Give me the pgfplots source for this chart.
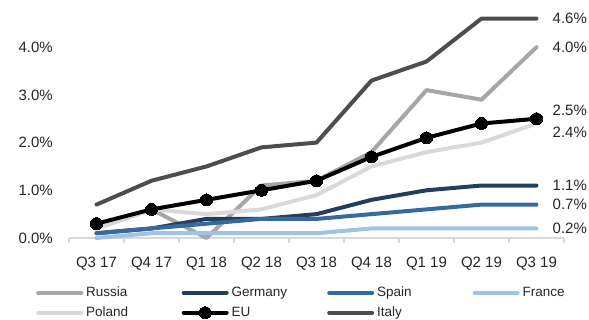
\documentclass[border=0pt]{standalone}
\usepackage{pgfplots}
\pgfplotsset{compat=1.18}
\usepackage{fontspec}
\setmainfont{Liberation Sans}

\definecolor{cRussia}{HTML}{A6A6A6}
\definecolor{cGermany}{HTML}{243F5E}
\definecolor{cSpain}{HTML}{366A9B}
\definecolor{cFrance}{HTML}{9DC3E6}
\definecolor{cPoland}{HTML}{D9D9D9}
\definecolor{cEU}{HTML}{000000}
\definecolor{cItaly}{HTML}{4D4D4D}
\definecolor{cAxis}{HTML}{D9D9D9}

% fixed-width legend text so the columns sit on an even pitch
\newcommand{\lgtext}[1]{\makebox[95.5pt][l]{#1}}

\begin{document}
\begin{tikzpicture}[x=1pt,y=1pt]
\useasboundingbox (0,0) rectangle (589,320);
\begin{axis}[
  at={(69pt,82pt)}, anchor=south west,
  scale only axis, width=495pt, height=228.96pt,
  xmin=-0.5, xmax=8.5, ymin=0, ymax=4.8,
  clip=false,
  axis lines*=left,
  y axis line style={draw=none},
  x axis line style={cAxis, line width=1.5pt},
  xtick={0,...,8},
  xticklabels={Q3 17,Q4 17,Q1 18,Q2 18,Q3 18,Q4 18,Q1 19,Q2 19,Q3 19},
  minor xtick={-0.5,0.5,...,8.5},
  ytick={0,1,2,3,4},
  major tick length=0pt,
  minor tick length=5pt,
  tick align=outside,
  minor x tick style={cAxis, line width=1.2pt},
  major tick style={draw=none},
  /pgf/number format/assume math mode=true,
  yticklabel={\pgfmathprintnumber[fixed,fixed zerofill,precision=1]{\tick}\%},
  tick label style={font=\fontsize{15}{18}\selectfont, text=black!85},
  yticklabel style={inner sep=0pt, xshift=-16pt},
  xticklabel style={inner sep=0pt, yshift=-18.5pt},
  every axis plot/.append style={line width=4pt, line cap=round, line join=round},
  legend columns=4,
  legend image code/.code={\draw[#1, mark repeat=2, mark phase=2] plot coordinates {(0pt,0pt) (21.5pt,0pt) (43pt,0pt)};},
  legend style={at={(0,0)}, anchor=north west, xshift=-33pt, yshift=-48pt,
    draw=none, fill=none, inner sep=0pt, row sep=7pt,
    font=\fontsize{13.5}{16}\selectfont,
    nodes={inner sep=0pt, text height=10pt, text depth=3pt, text=black!85},
    /tikz/every odd column/.append style={column sep=3pt}},
]
\addplot[cRussia] coordinates {(0,0.2) (1,0.6) (2,0.0) (3,1.1) (4,1.2) (5,1.8) (6,3.1) (7,2.9) (8,4.0)};
\addlegendentry{\lgtext{Russia}}
\addplot[cGermany] coordinates {(0,0.1) (1,0.2) (2,0.4) (3,0.4) (4,0.5) (5,0.8) (6,1.0) (7,1.1) (8,1.1)};
\addlegendentry{\lgtext{Germany}}
\addplot[cSpain] coordinates {(0,0.1) (1,0.2) (2,0.3) (3,0.4) (4,0.4) (5,0.5) (6,0.6) (7,0.7) (8,0.7)};
\addlegendentry{\lgtext{Spain}}
\addplot[cFrance] coordinates {(0,0.0) (1,0.1) (2,0.1) (3,0.1) (4,0.1) (5,0.2) (6,0.2) (7,0.2) (8,0.2)};
\addlegendentry{\lgtext{France}}
\addplot[cPoland] coordinates {(0,0.2) (1,0.6) (2,0.5) (3,0.6) (4,0.9) (5,1.5) (6,1.8) (7,2.0) (8,2.4)};
\addlegendentry{\lgtext{Poland}}
\addplot[cEU, mark=*, mark size=6pt, mark options={line width=0pt}] coordinates {(0,0.3) (1,0.6) (2,0.8) (3,1.0) (4,1.2) (5,1.7) (6,2.1) (7,2.4) (8,2.5)};
\addlegendentry{\lgtext{EU}}
\addplot[cItaly] coordinates {(0,0.7) (1,1.2) (2,1.5) (3,1.9) (4,2.0) (5,3.3) (6,3.7) (7,4.6) (8,4.6)};
\addlegendentry{\lgtext{Italy}}

% end-of-line value labels
\begin{scope}[every node/.style={anchor=west, inner sep=0pt, xshift=16pt, font=\fontsize{15}{18}\selectfont, text=black!85}]
\node at (axis cs:8,4.6) {4.6\%};
\node at (axis cs:8,4.0) {4.0\%};
\node[yshift=8pt] at (axis cs:8,2.5) {2.5\%};
\node[yshift=-9pt] at (axis cs:8,2.4) {2.4\%};
\node at (axis cs:8,1.1) {1.1\%};
\node at (axis cs:8,0.7) {0.7\%};
\node at (axis cs:8,0.2) {0.2\%};
\end{scope}
\end{axis}
\end{tikzpicture}
\end{document}
